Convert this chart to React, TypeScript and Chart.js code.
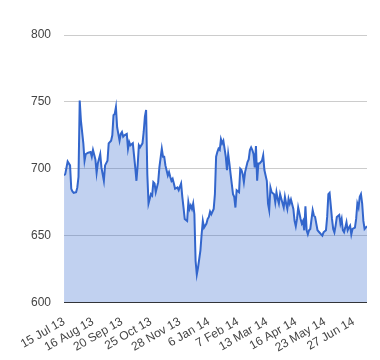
import React, { useEffect, useRef } from 'react';
import { Chart, registerables } from 'chart.js';

Chart.register(...registerables);

// Trading-day index of each reading (0 = 15 Jul 13)
const DAYS = [
  0, 1, 3, 5, 6, 7, 8, 10, 11, 12, 13, 14, 16, 17, 18, 20, 22, 23, 24, 26,
  27, 28, 30, 31, 32, 33, 34, 36, 37, 39, 40, 41, 42, 43, 44, 46, 47, 48, 49, 50,
  52, 53, 54, 55, 57, 58, 59, 60, 61, 62, 63, 65, 66, 67, 68, 69, 70, 72, 73, 74,
  75, 76, 78, 79, 81, 82, 83, 84, 86, 87, 88, 89, 90, 91, 92, 94, 95, 97, 98, 99,
  100, 102, 103, 104, 105, 106, 107, 108, 109, 110, 111, 113, 114, 115, 116, 118, 119, 120, 121, 122,
  124, 125, 126, 127, 128, 129, 130, 131, 132, 134, 135, 136, 137, 138, 140, 141, 142, 143, 145, 146,
  147, 148, 149, 150, 152, 153, 154, 155, 156, 157, 158, 159, 160, 161, 162, 164, 165, 166, 167, 168,
  169, 170, 171, 172, 174, 175, 176, 177, 178, 179, 180, 182, 183, 184, 185, 186, 187, 188, 190, 191,
  192, 193, 194, 196, 197, 198, 199, 200, 201, 202, 203, 204, 206, 207, 208, 209, 210, 212, 213, 214,
  215, 217, 218, 219, 220, 221, 222, 223, 224, 225, 226, 228, 229, 230, 231, 232, 233, 234, 235, 236,
  237, 238, 239, 241, 242, 243, 244, 245, 246, 247, 248, 249, 250, 251,
];

const VALUES = [
  695, 696, 705.5, 702.5, 685, 683, 682, 682.5, 686, 694, 751, 736, 719, 706, 711, 712, 712.5, 709, 714, 707,
  697, 704, 711, 701, 696, 691, 702.5, 706, 719, 721, 725, 740, 741, 746, 731, 721, 726, 727.5, 724, 725,
  726, 715, 720, 717.5, 719, 710, 701, 691, 702.5, 717.5, 716, 719, 727.5, 739, 744, 696, 674, 681, 680, 690,
  689, 682.5, 690, 701, 715, 709, 709, 702.5, 695, 697.5, 694, 691, 692.5, 689, 685, 686, 684, 689, 679, 671,
  662.5, 661, 675, 670, 672.5, 670, 674, 666, 631, 621, 626, 639, 651, 661, 656, 659, 662.5, 664, 668, 666,
  670, 681, 709, 712.5, 715, 714, 722, 719, 721, 709, 699, 711, 704, 696, 681, 679, 671, 684, 682.5, 700,
  699, 696, 690, 697.5, 705, 707, 714, 716, 714, 711, 701, 717, 691, 704, 704, 706, 710, 699, 695, 691,
  674, 669, 686, 682.5, 681, 675, 682.5, 677.5, 674, 681, 677.5, 671, 679, 674, 670, 677.5, 674, 677, 670, 661,
  657, 662.5, 671, 662.5, 659, 661, 654, 672, 654, 651, 654, 655, 669, 665, 664, 659, 654, 652, 651, 650,
  652.5, 654, 664, 681, 682, 672.5, 662.5, 655, 652.5, 657.5, 664, 665.5, 659, 662.5, 654, 652.5, 656, 660, 654, 656,
  657.5, 651, 655, 656, 662.5, 674, 671, 679, 681, 674, 661, 655, 656, 657,
];

const TICK_DAYS = [0, 24, 48, 72, 96, 120, 144, 168, 192, 216, 240];
const TICK_LABELS = [
  '15 Jul 13', '16 Aug 13', '20 Sep 13', '25 Oct 13', '28 Nov 13', '6 Jan 14',
  '7 Feb 14', '13 Mar 14', '16 Apr 14', '23 May 14', '27 Jun 14',
];

const Y_MIN = 600;
const Y_MAX = 800;
const Y_STEP = 50;
const X_MAX = 251;

const FONT = { family: 'Arial, "Liberation Sans", sans-serif', size: 12 };

export default function App() {
  const ref = useRef<HTMLCanvasElement>(null);

  useEffect(() => {
    if (!ref.current) return;
    const chart = new Chart(ref.current, {
      type: 'line',
      data: {
        datasets: [
          {
            data: DAYS.map((d, i) => ({ x: d, y: VALUES[i] })),
            borderColor: '#3366cc',
            borderWidth: 2,
            backgroundColor: 'rgba(51,102,204,0.3)',
            fill: 'start',
            pointRadius: 0,
            tension: 0,
          },
        ],
      },
      options: {
        animation: false,
        responsive: true,
        maintainAspectRatio: false,
        layout: { padding: { left: 18, right: 13, top: 35, bottom: 1 } },
        plugins: { legend: { display: false }, tooltip: { enabled: false } },
        scales: {
          x: {
            type: 'linear',
            min: 0,
            max: X_MAX,
            grid: { display: false },
            border: { display: false },
            afterBuildTicks: (axis: any) => {
              axis.ticks = TICK_DAYS.map((v) => ({ value: v }));
            },
            ticks: {
              autoSkip: false,
              maxRotation: 30,
              minRotation: 30,
              padding: 4,
              color: '#444',
              font: FONT,
              callback: (_v: any, i: number) => TICK_LABELS[i] ?? '',
            },
          },
          y: {
            min: Y_MIN,
            max: Y_MAX,
            border: { display: false },
            grid: {
              drawTicks: false,
              color: (ctx: any) => (ctx.tick && ctx.tick.value === Y_MIN ? '#333' : '#ccc'),
            },
            ticks: { stepSize: Y_STEP, padding: 13, color: '#444', font: FONT },
          },
        },
      },
    });
    return () => chart.destroy();
  }, []);

  return (
    <div style={{ position: 'absolute', left: 0, top: 0, width: 380, height: 360 }}>
      <canvas ref={ref} />
    </div>
  );
}
